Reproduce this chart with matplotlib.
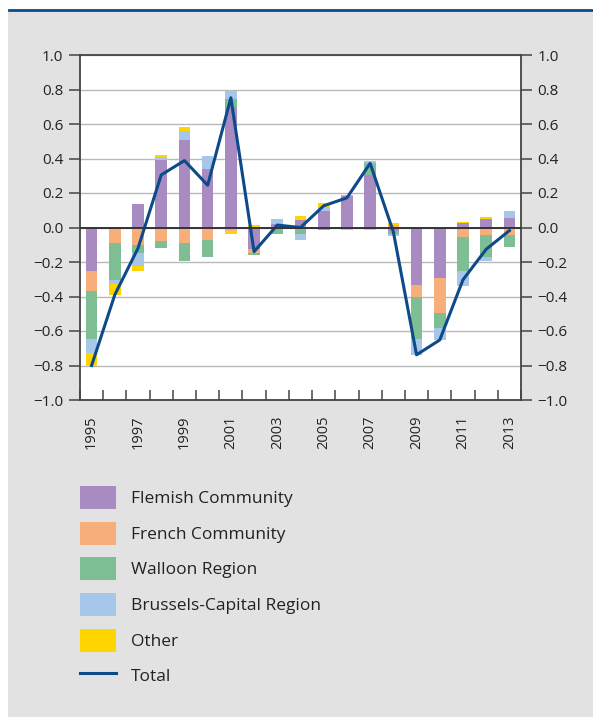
import matplotlib.pyplot as plt
import numpy as np
from matplotlib.patches import Rectangle, Patch
from matplotlib.lines import Line2D
from matplotlib.ticker import FuncFormatter

plt.rcParams['font.family'] = ['Open Sans', 'DejaVu Sans']

# datos por año (contribucion al total)
anios = list(range(1995, 2014))

flemish = [-0.255, -0.008, 0.137, 0.392, 0.508, 0.340, 0.696, -0.125, 0.020, 0.045,
           0.093, 0.180, 0.305, -0.023, -0.332, -0.292, 0.027, 0.048, 0.054]
french = [-0.116, -0.079, -0.100, -0.077, -0.089, -0.072, -0.023, -0.024, -0.010, 0.000,
          0.000, 0.006, 0.000, 0.015, -0.073, -0.203, -0.054, -0.043, -0.043]
walloon = [-0.274, -0.220, -0.050, -0.040, -0.104, -0.098, 0.048, -0.009, -0.025, -0.035,
           -0.017, 0.004, 0.068, -0.012, -0.240, -0.085, -0.197, -0.129, -0.070]
brussels = [-0.080, -0.018, -0.072, 0.014, 0.054, 0.072, 0.048, 0.000, 0.030, -0.035,
            0.023, -0.017, 0.014, -0.017, -0.093, -0.075, -0.087, -0.021, 0.043]
other = [-0.075, -0.065, -0.033, 0.015, 0.021, 0.000, -0.012, 0.012, 0.000, 0.023,
         0.025, 0.000, -0.017, 0.012, 0.000, 0.000, 0.006, 0.014, 0.000]
total = [-0.800, -0.390, -0.120, 0.305, 0.388, 0.245, 0.752, -0.140, 0.014, 0.000,
         0.126, 0.172, 0.372, -0.025, -0.738, -0.652, -0.303, -0.126, -0.018]

series = [flemish, french, walloon, brussels, other]
nombres = ['Flemish Community', 'French Community', 'Walloon Region',
           'Brussels-Capital Region', 'Other']
colores = ['#a78bc1', '#f7ae7b', '#7dbe95', '#a6c6ea', '#ffd500']
azul = '#0d4a8a'
gris = '#e2e2e2'
oscuro = '#444444'


def fmt(v, p):
    v = round(v, 1)
    if v == 0:
        return '0.0'
    return f'{v:.1f}'.replace('-', '\u2212')


fig = plt.figure(figsize=(5.93, 7.17), dpi=100)
fig.patches.append(Rectangle((8 / 593, 0), 1, (717 - 11) / 717, transform=fig.transFigure,
                             facecolor=gris, edgecolor='none', zorder=-5))
fig.lines.append(Line2D([9 / 593, 1], [(717 - 10) / 717] * 2, transform=fig.transFigure,
                        color='#0b4a8c', linewidth=2.0, zorder=-4))

ax = fig.add_axes([80 / 593, 317 / 717, 441 / 593, 345 / 717])
ax.set_zorder(2)
ax.set_facecolor('white')

x = np.arange(len(anios))
pos = np.zeros(len(anios))
neg = np.zeros(len(anios))
for vals, nombre, color in zip(series, nombres, colores):
    v = np.array(vals)
    base = np.where(v >= 0, pos, neg)
    ax.bar(x, v, width=0.5, bottom=base, color=color, label=nombre, zorder=3)
    pos = pos + np.where(v >= 0, v, 0)
    neg = neg + np.where(v < 0, v, 0)

ax.plot(x, total, color=azul, linewidth=2.2, label='Total', zorder=4)

ax.set_xlim(-0.5, len(anios) - 0.5)
ax.set_ylim(-1.0, 1.0)
yt = np.arange(-1.0, 1.01, 0.2)
ax.set_yticks(yt)
ax.yaxis.set_major_formatter(FuncFormatter(fmt))
for t in yt:
    ax.axhline(t, color='#b9b9b9', linewidth=1.0, zorder=1)
ax.axhline(0, color='#333333', linewidth=1.4, zorder=5)

ax.set_xticks(x[::2])
ax.set_xticklabels([str(a) for a in anios[::2]], rotation=90)
ax.set_xticks(np.arange(-0.5, len(anios), 1), minor=True)
ax.tick_params(axis='x', which='major', length=0, pad=11, labelsize=10.5, colors='#222222')
ax.tick_params(axis='x', which='minor', direction='in', length=7, width=1.1, color=oscuro)
ax.tick_params(axis='y', which='major', direction='out', length=8, width=1.1, color=oscuro,
               left=True, right=True, labelleft=True, labelright=True,
               labelsize=11, labelcolor='#222222', pad=4)

for s in ax.spines.values():
    s.set_color(oscuro)
    s.set_linewidth(1.3)

h, l = ax.get_legend_handles_labels()
orden = [1, 2, 3, 4, 5, 0]
fig.legend([h[i] for i in orden], [l[i] for i in orden], loc='upper left',
           bbox_to_anchor=(80 / 593, (717 - 486) / 717), frameon=False, fontsize=12.5,
           handlelength=2.1, handleheight=1.66, handletextpad=0.85, labelspacing=0.73,
           borderpad=0, borderaxespad=0, labelcolor='#222222')

fig.savefig('out.png', dpi=100, facecolor='white')
